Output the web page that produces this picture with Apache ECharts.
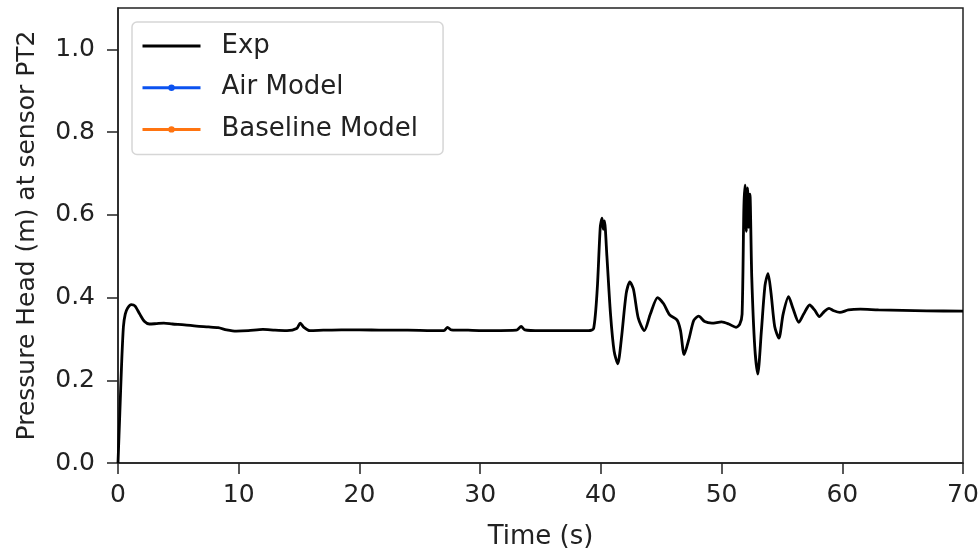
<!DOCTYPE html>
<html>
<head>
<meta charset="utf-8">
<script src="https://cdn.jsdelivr.net/npm/echarts@6/dist/echarts.min.js"></script>
<style>
  html, body { margin: 0; padding: 0; background: #fff; }
  #chart { width: 978px; height: 549px; }
</style>
</head>
<body>
<div id="chart"></div>
<script>
const expTime = [
  0, 0.15, 0.3, 0.45, 0.6, 0.8, 1.1, 1.4, 1.8, 2.2, 2.6, 3.2, 3.8, 4.5, 5.5, 6.5, 7.5, 8.3, 9.0, 9.8,
  10.8, 12.0, 13.0, 14.0, 14.8, 15.1, 15.4, 15.9, 17.0, 18.5, 20.0, 22.0, 24.0, 26.0, 27.0, 27.3, 27.6,
  29.0, 31.0, 33.0, 33.4, 33.7, 35.0, 37.0, 39.0, 39.4, 39.7, 39.95, 40.1, 40.2, 40.3, 40.5, 40.8, 41.1,
  41.4, 41.7, 42.1, 42.4, 42.7, 43.1, 43.6, 44.1, 44.7, 45.2, 45.7, 46.3, 46.6, 46.9, 47.3, 47.7, 48.1,
  48.6, 49.2, 50.0, 50.6, 51.2, 51.5, 51.7, 51.85, 51.95, 52.05, 52.15, 52.25, 52.35, 52.5, 52.75, 53.0,
  53.3, 53.6, 53.85, 54.1, 54.4, 54.75, 55.1, 55.55, 55.9, 56.4, 56.8, 57.3, 57.7, 58.1, 58.5, 58.9,
  59.3, 59.8, 60.5, 61.5, 63.0, 65.0, 67.0, 70.0
]
const expHead = [
  0.0, 0.12, 0.24, 0.33, 0.36, 0.375, 0.383, 0.38, 0.36, 0.342, 0.336, 0.337, 0.338, 0.336, 0.334, 0.331, 0.329, 0.327, 0.322, 0.319,
  0.320, 0.323, 0.321, 0.320, 0.325, 0.338, 0.328, 0.320, 0.321, 0.322, 0.322, 0.321, 0.321, 0.320, 0.320, 0.328, 0.322,
  0.321, 0.320, 0.321, 0.330, 0.322, 0.320, 0.320, 0.320, 0.325, 0.42, 0.57, 0.592, 0.565, 0.585, 0.50, 0.36, 0.27,
  0.24, 0.30, 0.41, 0.438, 0.42, 0.35, 0.32, 0.36, 0.40, 0.385, 0.358, 0.346, 0.32, 0.262, 0.30, 0.345, 0.355,
  0.342, 0.338, 0.341, 0.336, 0.328, 0.335, 0.36, 0.62, 0.672, 0.56, 0.665, 0.57, 0.65, 0.45, 0.28, 0.215,
  0.32, 0.43, 0.458, 0.41, 0.33, 0.302, 0.36, 0.402, 0.375, 0.34, 0.36, 0.382, 0.37, 0.354, 0.366, 0.374,
  0.368, 0.364, 0.370, 0.372, 0.370, 0.369, 0.368, 0.367
]
// model curves are not drawn yet in this frame
const airModel = []
const baselineModel = []

const yTicks = [0, 0.2, 0.4, 0.6, 0.8, 1.0]
const xTicks = [0, 10, 20, 30, 40, 50, 60, 70]

const chart = echarts.init(document.getElementById('chart'))
const font = 'DejaVu Sans'

chart.setOption({
  animation: false,
  grid: {
    left: 118,
    right: 15,
    top: 8,
    bottom: 86,
    outerBoundsMode: 'none',
    show: true,
    borderColor: '#222',
    borderWidth: 1.5
  },
  legend: {
    left: 132,
    top: 22,
    orient: 'vertical',
    data: [
      { name: 'Exp', itemStyle: { opacity: 0 } },
      'Air Model',
      'Baseline Model'
    ],
    itemWidth: 58,
    itemHeight: 8,
    itemGap: 13.7,
    padding: [10, 25, 11, 9],
    backgroundColor: '#fff',
    borderColor: '#d6d6d6',
    borderWidth: 1.5,
    borderRadius: 5,
    lineStyle: { width: 3 },
    textStyle: {
      fontFamily: font,
      fontSize: 26,
      color: '#222',
      lineHeight: 28,
      padding: [0, 0, 0, 16]
    }
  },
  xAxis: {
    type: 'value',
    min: 0,
    max: 70,
    interval: 10,
    name: 'Time (s)',
    nameLocation: 'middle',
    nameGap: 61,
    nameTextStyle: { fontFamily: font, fontSize: 26, color: '#222' },
    splitLine: { show: false },
    axisLine: { onZero: false, lineStyle: { color: '#222', width: 1.5 } },
    axisTick: { length: 11, lineStyle: { color: '#222', width: 1.5 }, customValues: xTicks },
    axisLabel: { fontFamily: font, fontSize: 25, color: '#222', margin: 20, customValues: xTicks }
  },
  yAxis: {
    type: 'value',
    min: 0,
    max: 1.1,
    name: 'Pressure Head (m) at sensor PT2',
    nameLocation: 'middle',
    nameGap: 78,
    nameTextStyle: { fontFamily: font, fontSize: 25, color: '#222' },
    splitLine: { show: false },
    axisLine: { show: true, lineStyle: { color: '#222', width: 1.5 } },
    axisTick: { show: true, length: 11, lineStyle: { color: '#222', width: 1.5 }, customValues: yTicks },
    axisLabel: {
      fontFamily: font,
      fontSize: 25,
      color: '#222',
      margin: 23,
      customValues: yTicks,
      formatter: v => v.toFixed(1)
    }
  },
  series: [
    {
      name: 'Exp',
      type: 'line',
      data: expTime.map((t, i) => [t, expHead[i]]),
      symbol: 'none',
      smooth: 0.25,
      color: '#000',
      lineStyle: { color: '#000', width: 2.8 }
    },
    {
      name: 'Air Model',
      type: 'line',
      data: airModel,
      symbol: 'circle',
      symbolSize: 7,
      color: '#0b52f0',
      lineStyle: { color: '#0b52f0', width: 3 }
    },
    {
      name: 'Baseline Model',
      type: 'line',
      data: baselineModel,
      symbol: 'circle',
      symbolSize: 7,
      color: '#ff7410',
      lineStyle: { color: '#ff7410', width: 3 }
    }
  ]
})
</script>
</body>
</html>
